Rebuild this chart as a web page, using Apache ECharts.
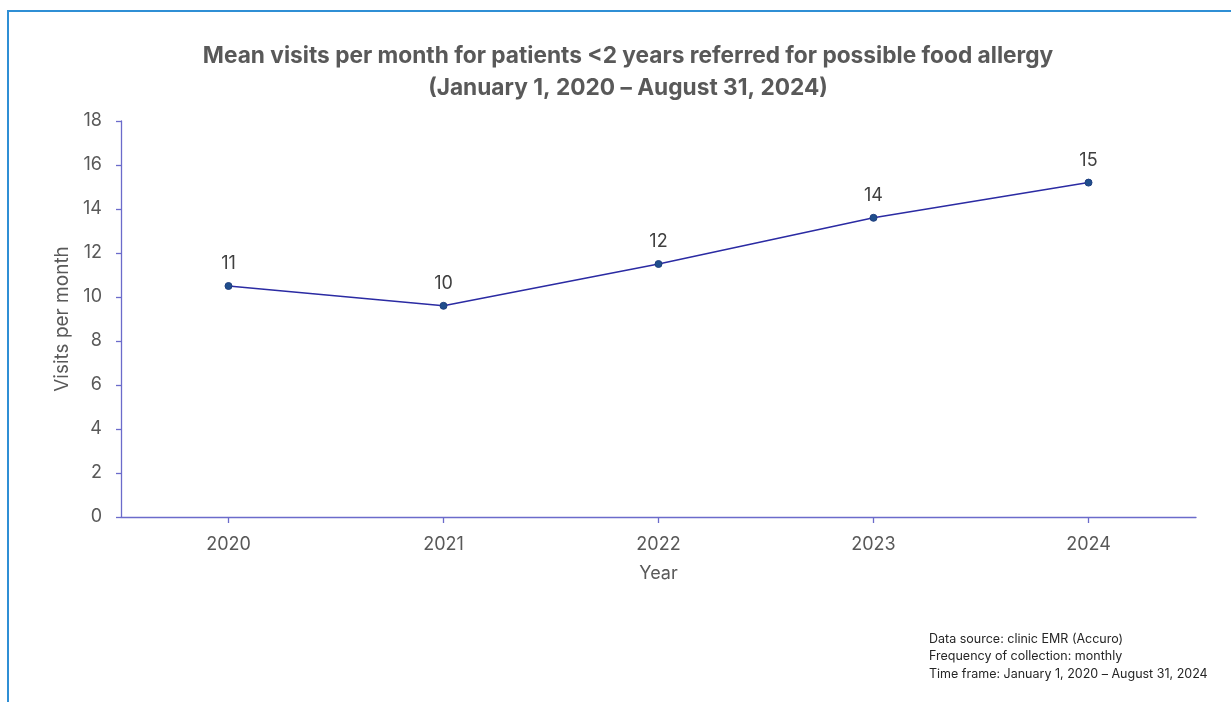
<!DOCTYPE html>
<html>
<head>
<meta charset="utf-8">
<script src="https://cdn.jsdelivr.net/npm/echarts@6/dist/echarts.min.js"></script>
<style>
html,body{margin:0;padding:0;background:#fff;}
#chart{width:1231px;height:702px;}
</style>
</head>
<body>
<div id="chart"></div>
<script>
const years = ['2020', '2021', '2022', '2023', '2024'];
const meanVisits = [10.5, 9.6, 11.5, 13.6, 15.2];
const titleLines = ['Mean visits per month for patients <2 years referred for possible food allergy', '(January 1, 2020 – August 31, 2024)'];
const footnotes = ['Data source: clinic EMR (Accuro)', 'Frequency of collection: monthly', 'Time frame: January 1, 2020 – August 31, 2024'];

const chart = echarts.init(document.getElementById('chart'), null, {renderer: 'canvas'});
const textColor = '#595959';
const axisColor = '#6B6BCB';
const font = 'Inter, "Open Sans", sans-serif';

chart.setOption({
  animation: false,
  backgroundColor: '#fff',
  title: {
    text: titleLines.join('\n'),
    left: 623, top: 35, textAlign: 'center',
    textStyle: {fontFamily: font, fontSize: 22.7, fontWeight: 'bold', color: textColor, lineHeight: 32}
  },
  graphic: [
    {type: 'rect', shape: {x: 8, y: 11, width: 1400, height: 900}, style: {fill: 'none', stroke: '#2F8FD5', lineWidth: 2}, silent: true},
    {type: 'text', left: 929, top: 630, style: {text: footnotes.join('\n'), fontFamily: font, fontSize: 12.5, lineHeight: 17.8, fill: '#262626'}}
  ],
  grid: {left: 121, right: 35, top: 121, bottom: 185, containLabel: false},
  xAxis: {
    type: 'category', data: years, boundaryGap: true,
    name: 'Year', nameLocation: 'middle', nameGap: 48,
    nameTextStyle: {fontFamily: font, fontSize: 18, color: textColor},
    axisLine: {lineStyle: {color: axisColor, width: 1.3}},
    axisTick: {show: true, alignWithLabel: true, inside: false, length: 6, lineStyle: {color: axisColor, width: 1.3}},
    axisLabel: {fontFamily: font, fontSize: 18, color: textColor, margin: 19}
  },
  yAxis: {
    type: 'value', min: 0, max: 18, interval: 2,
    name: 'Visits per month', nameLocation: 'middle', nameGap: 46, nameRotate: 90,
    nameTextStyle: {fontFamily: font, fontSize: 19, color: textColor},
    axisLine: {show: true, lineStyle: {color: axisColor, width: 1.3}},
    axisTick: {show: true, length: 5, lineStyle: {color: axisColor, width: 1.3}},
    splitLine: {show: false},
    axisLabel: {fontFamily: font, fontSize: 18, color: textColor, margin: 19}
  },
  series: [{
    type: 'line', data: meanVisits,
    symbol: 'circle', symbolSize: 7,
    lineStyle: {color: '#2B2BA3', width: 1.5},
    itemStyle: {color: '#1F4E8C', borderColor: '#1F3F80', borderWidth: 1},
    label: {show: true, position: 'top', distance: 9, fontFamily: font, fontSize: 18, color: '#404040',
      formatter: p => String(Math.round(p.value))}
  }]
});
</script>
</body>
</html>
